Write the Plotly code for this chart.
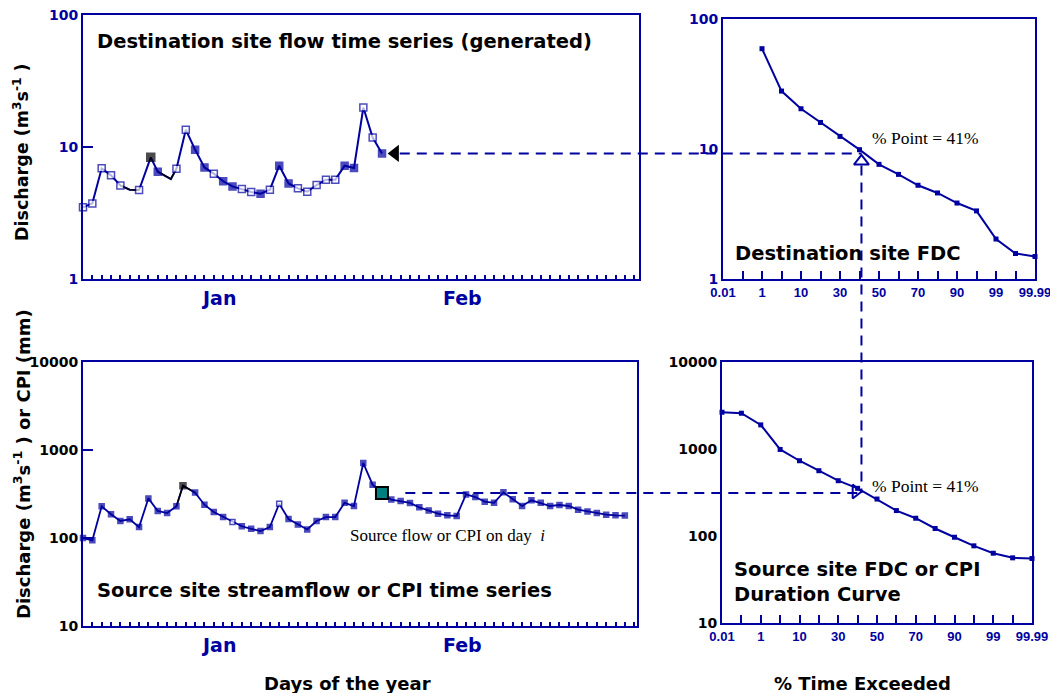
import numpy as np
import plotly.graph_objects as go

W, H = 1050, 693
BLUE = "#0000A0"
SANS = "Liberation Sans, Arial, sans-serif"
WIDE = "DejaVu Sans, Verdana, sans-serif"
SERIF = "Liberation Serif, Times New Roman, serif"

# ---------------- data ----------------
# Destination site (generated) daily flow, m3/s
dest_day = [0, 1, 2, 3, 4, 5, 6, 7.25, 8, 9.4, 10, 11, 12, 13, 14, 15, 16, 17, 18, 19, 20,
            21, 22, 23, 24, 25, 26, 27, 28, 29, 30, 31, 32]
dest_flow = [3.49, 3.74, 6.89, 6.10, 5.12, 4.75, 4.72, 8.35, 6.5, 5.72, 6.85, 13.5, 9.55, 7.0,
             6.28, 5.5, 5.03, 4.81, 4.56, 4.43, 4.75, 7.22, 5.3, 4.86, 4.59, 5.15, 5.66, 5.66,
             7.22, 6.93, 19.9, 11.8, 8.94]
# marker kind per point: o = open, f = filled, k = black, n = none
dest_mark = ["o", "o", "o", "o", "o", "n", "o", "k", "f", "n", "o", "o", "f", "f", "o", "f",
             "f", "o", "o", "f", "o", "f", "f", "o", "o", "o", "o", "o", "f", "f", "o", "o", "f"]

# Source site streamflow / CPI
src_day = [0, 1, 2, 3, 4, 5, 6, 7, 8, 9, 10, 10.7, 12, 13, 14, 15, 16, 17, 18, 19, 20, 21, 22,
           23, 24, 25, 26, 27, 28, 29, 30, 31, 32, 33, 34, 35, 36, 37, 38, 39, 40, 41, 42, 43,
           44, 45, 46, 47, 48, 49, 50, 51, 52, 53, 54, 55, 56, 57, 58]
src_flow = [100, 94, 229, 186, 156, 163, 133, 282, 203, 192, 229, 393, 328, 239, 197, 173, 152,
            136, 127, 120, 133, 245, 164, 142, 125, 156, 173, 173, 251, 231, 711, 403, 324, 273,
            263, 250, 223, 206, 189, 181, 178, 313, 292, 259, 251, 330, 275, 231, 268, 251, 231,
            237, 231, 210, 200, 192, 184, 181, 180]
src_mark = ["f"] * len(src_day)
src_mark[11] = "k"
src_mark[16] = "o"
src_mark[21] = "o"

day_i_dest = 32          # index into dest arrays of "day i"
day_i_src = 32           # index into source arrays of "day i"

# Flow duration curves (position index on the probability axis)
pct_labels = ["0.01", "1", "10", "30", "50", "70", "90", "99", "99.99"]
pct_values = [0.01, 1, 10, 30, 50, 70, 90, 99, 99.99]
pct_label_pos = [0, 2, 4, 6, 8, 10, 12, 14, 16]
fdc_ticks = list(range(17))

dest_fdc_pos = [2, 3, 4, 5, 6, 7, 8, 9, 10, 11, 12, 13, 14, 15, 16]
dest_fdc_val = [59.1, 27.9, 20.4, 16.0, 12.5, 9.88, 7.62, 6.38, 5.26, 4.59, 3.84, 3.34, 2.03,
                1.57, 1.49]
src_fdc_pos = list(range(17))
src_fdc_val = [2646, 2578, 1893, 988, 733, 563, 432, 353, 266, 196, 160, 122, 96.8, 77.1, 63.4,
               56.1, 55.1]

pct_point = 41

month_labels = ["Jan", "Feb"]
month_pos = [14.5, 40.6]

# ---------------- layout geometry ----------------
def px(x):
    return x / W

def py(y):
    return 1 - y / H

ax1x = dict(domain=[px(83), px(639)], range=[0, 59.5])
ax1y = dict(domain=[py(279), py(15)], range=[0, 2])
ax2x = dict(domain=[px(723), px(1035)], range=[0, 16])
ax2y = dict(domain=[py(279), py(19)], range=[0, 2])
ax3x = dict(domain=[px(83), px(637)], range=[0, 59.3])
ax3y = dict(domain=[py(626), py(362)], range=[1, 4])
ax4x = dict(domain=[px(722), px(1032)], range=[0, 16])
ax4y = dict(domain=[py(623), py(362)], range=[1, 4])


def xpaper(ax, v):
    d, r = ax["domain"], ax["range"]
    return d[0] + (v - r[0]) / (r[1] - r[0]) * (d[1] - d[0])


def ypaper(ax, v):
    d, r = ax["domain"], ax["range"]
    return d[0] + (np.log10(v) - r[0]) / (r[1] - r[0]) * (d[1] - d[0])


def frame(extra):
    base = dict(showline=True, linecolor=BLUE, linewidth=2, mirror=True, showgrid=False,
                zeroline=False, automargin=False, ticklabeloverflow="allow")
    base.update(extra)
    return base


def marker_style(kinds, fill_size, color=BLUE):
    colors, lines, sizes = [], [], []
    for k in kinds:
        if k == "o":
            colors.append("white"); lines.append(color); sizes.append(fill_size)
        elif k == "f":
            colors.append(color); lines.append(color); sizes.append(fill_size)
        elif k == "k":
            colors.append("black"); lines.append("black"); sizes.append(fill_size + 1)
        else:
            colors.append("rgba(0,0,0,0)"); lines.append("rgba(0,0,0,0)"); sizes.append(0)
    return dict(symbol="square", color=colors, size=sizes, line=dict(color=lines, width=1.5))


fig = go.Figure()

# --- destination time series
fig.add_trace(go.Scatter(x=dest_day, y=dest_flow, mode="lines", xaxis="x", yaxis="y",
                         line=dict(color=BLUE, width=2), hoverinfo="skip", showlegend=False))
for a, b in [(4, 7), (8, 11)]:
    fig.add_trace(go.Scatter(x=dest_day[a:b], y=dest_flow[a:b], mode="lines", xaxis="x",
                             yaxis="y", line=dict(color="black", width=1.5),
                             showlegend=False))
fig.add_trace(go.Scatter(x=dest_day, y=dest_flow, mode="markers", xaxis="x", yaxis="y",
                         marker=marker_style(dest_mark, 7), cliponaxis=False,
                         showlegend=False))
# arrow at day i
fig.add_trace(go.Scatter(x=[dest_day[day_i_dest] + 1.4], y=[dest_flow[day_i_dest]],
                         mode="markers", xaxis="x", yaxis="y",
                         marker=dict(symbol="triangle-left", size=15, color="black"),
                         showlegend=False))

# --- destination FDC
fig.add_trace(go.Scatter(x=dest_fdc_pos, y=dest_fdc_val, mode="lines+markers", xaxis="x2",
                         yaxis="y2", line=dict(color=BLUE, width=2),
                         marker=dict(symbol="square", size=5, color=BLUE), cliponaxis=False,
                         showlegend=False))

# --- source time series
fig.add_trace(go.Scatter(x=src_day, y=src_flow, mode="lines", xaxis="x3", yaxis="y3",
                         line=dict(color=BLUE, width=1.8), showlegend=False))
fig.add_trace(go.Scatter(x=src_day[10:13], y=src_flow[10:13], mode="lines", xaxis="x3",
                         yaxis="y3", line=dict(color="black", width=1.5), showlegend=False))
fig.add_trace(go.Scatter(x=src_day, y=src_flow, mode="markers", xaxis="x3", yaxis="y3",
                         marker=marker_style(src_mark, 5), cliponaxis=False,
                         showlegend=False))
fig.add_trace(go.Scatter(x=[src_day[day_i_src]], y=[src_flow[day_i_src]], mode="markers",
                         xaxis="x3", yaxis="y3",
                         marker=dict(symbol="square", size=12, color="#008080",
                                     line=dict(color="black", width=2)),
                         showlegend=False))

# --- source FDC
fig.add_trace(go.Scatter(x=src_fdc_pos, y=src_fdc_val, mode="lines+markers", xaxis="x4",
                         yaxis="y4", line=dict(color=BLUE, width=2),
                         marker=dict(symbol="square", size=5, color=BLUE), cliponaxis=False,
                         showlegend=False))

# percentage point position on the probability axis
p_pos = float(np.interp(pct_point, pct_values, pct_label_pos))
fig.add_trace(go.Scatter(x=[p_pos], y=[dest_flow[day_i_dest] * 0.9], mode="markers",
                         xaxis="x2", yaxis="y2",
                         marker=dict(symbol="triangle-up-open", size=13, color=BLUE,
                                     line=dict(width=2)), showlegend=False))
fig.add_trace(go.Scatter(x=[p_pos - 0.2], y=[src_flow[day_i_src]], mode="markers",
                         xaxis="x4", yaxis="y4",
                         marker=dict(symbol="triangle-right-open", size=12, color=BLUE,
                                     line=dict(width=2)), showlegend=False))

# --- dashed connectors
dash = dict(color=BLUE, width=2, dash="10px,7px")
xv = xpaper(ax2x, p_pos)
y_top = ypaper(ax1y, dest_flow[day_i_dest])
y_bot = ypaper(ax3y, src_flow[day_i_src])
shapes = [
    dict(type="line", xref="paper", yref="paper", x0=xpaper(ax1x, dest_day[day_i_dest] + 1.9),
         x1=xv, y0=y_top, y1=y_top, line=dash),
    dict(type="line", xref="paper", yref="paper", x0=xv, x1=xv, y0=y_top - 12 / H,
         y1=y_bot, line=dash),
    dict(type="line", xref="paper", yref="paper", x0=xpaper(ax3x, src_day[day_i_src] + 2.5),
         x1=xv, y0=y_bot, y1=y_bot, line=dash),
]

# --- axes
day_ticks = list(range(0, 60))
xt = dict(ticks="inside", ticklen=4, tickwidth=1.5, tickcolor=BLUE, tickvals=day_ticks,
          showticklabels=False)
fdc_text = [pct_labels[pct_label_pos.index(t)] if t in pct_label_pos else "" for t in fdc_ticks]
fdc_x = dict(ticks="inside", ticklen=8, tickwidth=1.5, tickcolor=BLUE, tickvals=fdc_ticks,
             ticktext=fdc_text,
             tickfont=dict(family=SANS, size=13, color=BLUE, weight="bold"))

tf_blue = dict(family=WIDE, size=14, color=BLUE, weight="bold")
tf_black = dict(family=WIDE, size=14, color="black", weight="bold")

fig.update_layout(
    width=W, height=H, margin=dict(l=0, r=0, t=0, b=0),
    paper_bgcolor="white", plot_bgcolor="white", showlegend=False,
    xaxis=frame({**ax1x, **xt, "anchor": "y"}),
    yaxis=frame({**ax1y, "type": "log", "anchor": "x", "tickvals": [1, 10, 100],
                 "ticktext": ["1", "10", "100"], "ticks": "inside", "ticklen": 10,
                 "tickwidth": 2, "tickcolor": BLUE, "tickfont": tf_blue}),
    xaxis2=frame({**ax2x, **fdc_x, "anchor": "y2"}),
    yaxis2=frame({**ax2y, "type": "log", "anchor": "x2", "tickvals": [1, 10, 100],
                  "ticktext": ["1", "10", "100"], "ticks": "", "tickfont": tf_blue}),
    xaxis3=frame({**ax3x, **xt, "anchor": "y3"}),
    yaxis3=frame({**ax3y, "type": "log", "anchor": "x3", "tickvals": [10, 100, 1000, 10000],
                  "ticktext": ["10", "100", "1000", "10000"], "ticks": "inside",
                  "ticklen": 10, "tickwidth": 2, "tickcolor": BLUE, "tickfont": tf_black}),
    xaxis4=frame({**ax4x, **fdc_x, "anchor": "y4"}),
    yaxis4=frame({**ax4y, "type": "log", "anchor": "x4", "tickvals": [10, 100, 1000, 10000],
                  "ticktext": ["10", "100", "1000", "10000"], "ticks": "",
                  "tickfont": tf_black}),
    shapes=shapes,
)

ann = []

def text(x, y, s, size=18, color="black", family=WIDE, xanchor="left", yanchor="middle",
         bold=True, angle=0, align="left"):
    ann.append(dict(x=x, y=y, xref="paper", yref="paper", text=s, showarrow=False,
                    xanchor=xanchor, yanchor=yanchor, textangle=angle, align=align,
                    font=dict(family=family, size=size, color=color,
                              weight="bold" if bold else "normal")))

text(px(95), py(41), "Destination site flow time series (generated)", size=19.5)
text(px(733), py(253), "Destination site FDC", size=19.5)
text(px(95), py(590), "Source site streamflow or CPI time series", size=19.5)
text(px(732), py(582), "Source site FDC or CPI<br>Duration Curve", size=19.5)
text(px(870), py(138), f"% Point = {pct_point}%", size=17.5, family=SERIF, bold=False)
text(px(870), py(486), f"% Point = {pct_point}%", size=17.5, family=SERIF, bold=False)
text(px(348), py(535), "Source flow or CPI on day  <i>i</i>", size=17, family=SERIF,
     bold=False)
text(px(347), py(683), "Days of the year", xanchor="center", size=18)
text(px(862), py(683), "% Time Exceeded", xanchor="center", size=18)
text(px(21), py(152), "Discharge (m<sup>3</sup>s<sup>-1</sup> )", xanchor="center", angle=-90,
     size=17.5)
text(px(22), py(464), "Discharge (m<sup>3</sup>s<sup>-1</sup> ) or CPI (mm)",
     xanchor="center", angle=-90, size=18)
for lab, pos in zip(month_labels, month_pos):
    text(xpaper(ax1x, pos), py(298), lab, size=19, color=BLUE, xanchor="center")
    text(xpaper(ax3x, pos), py(645), lab, size=19, color=BLUE, xanchor="center")

fig.update_layout(annotations=ann)
fig.write_html("out.html", config={"displayModeBar": False},
               post_script="document.body.style.margin='0';document.body.style.overflow='hidden';")
